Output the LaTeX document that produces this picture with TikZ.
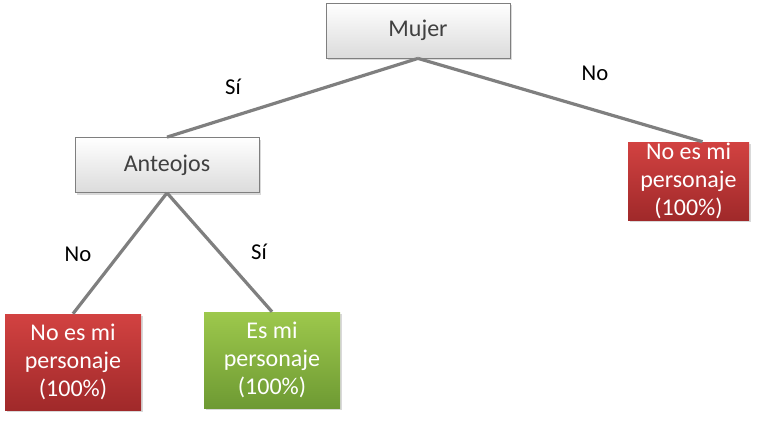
\documentclass[tikz,border=0pt]{standalone}
\usepackage{fontspec}
\setmainfont{Carlito}
\usetikzlibrary{shadows}
\definecolor{redtop}{HTML}{D24241}
\definecolor{redbot}{HTML}{A0292A}
\definecolor{greentop}{HTML}{9DC84C}
\definecolor{greenbot}{HTML}{6E9A33}
\definecolor{linegray}{HTML}{7F7F7F}
\definecolor{txtgray}{HTML}{404040}
\tikzset{
  x=0.75pt, y=-0.75pt,
  greybox/.style={draw=linegray, line width=0.6pt, top color=white, bottom color=black!14, minimum width=184*0.75pt, minimum height=55*0.75pt, inner sep=0pt, font=\fontsize{18}{20}\selectfont, text=txtgray, drop shadow={shadow xshift=1.5pt, shadow yshift=-1.5pt, opacity=0.3}},
  leaf/.style={inner sep=0pt, font=\fontsize{18}{21}\selectfont, text=white, align=center, drop shadow={shadow xshift=1.5pt, shadow yshift=-1.5pt, opacity=0.3}},
  redleaf/.style={leaf, top color=redtop, bottom color=redbot},
  greenleaf/.style={leaf, top color=greentop, bottom color=greenbot},
  conn/.style={draw=linegray, line width=2.4pt},
  lbl/.style={font=\fontsize{17}{20}\selectfont, text=black}
}
\begin{document}
\begin{tikzpicture}
\useasboundingbox (0,0) rectangle (782,426);
\node[greybox] (mujer) at (418,30.5) {Mujer};
\node[greybox] (ante) at (167,165) {Anteojos};
\node[redleaf, minimum width=121*0.75pt, minimum height=78*0.75pt] (r1) at (688.5,181) {No es mi\\personaje\\(100\%)};
\node[redleaf, minimum width=136*0.75pt, minimum height=96*0.75pt] (r2) at (73,362) {No es mi\\personaje\\(100\%)};
\node[greenleaf, minimum width=136*0.75pt, minimum height=96*0.75pt] (g1) at (272,360) {Es mi\\personaje\\(100\%)};
\coordinate (mb) at (mujer.south);
\coordinate (ab) at (ante.south);
\draw[conn] (mb) -- (ante.north);
\draw[conn] (mb) -- ([xshift=14*0.75pt]r1.north);
\draw[conn] (ab) -- (r2.north);
\draw[conn] (ab) -- (g1.north);
\node[lbl] (l1) at (233,87) {Sí};
\node[lbl] (l2) at (595,73) {No};
\node[lbl] (l3) at (78,254) {No};
\node[lbl] (l4) at (259,252) {Sí};
\end{tikzpicture}
\end{document}
